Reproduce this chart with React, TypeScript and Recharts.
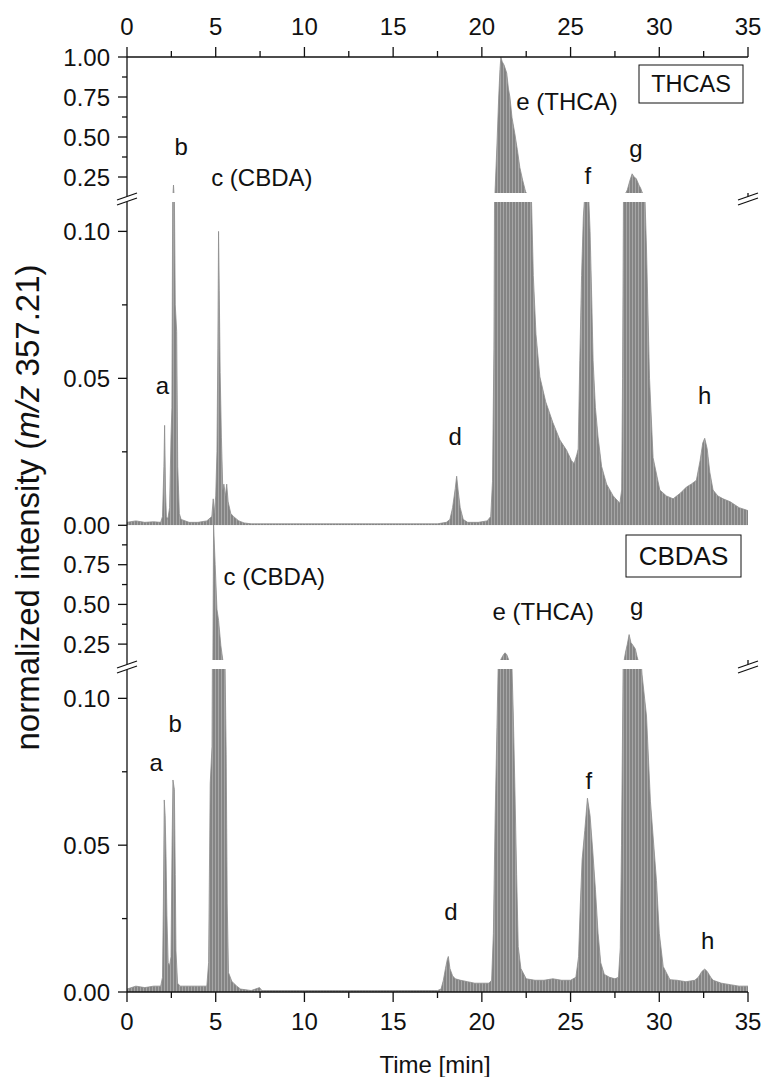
import React from 'react';
import { ComposedChart, Area, XAxis, YAxis, ReferenceDot } from 'recharts';

const FONT = '"Liberation Sans", Arial, Helvetica, sans-serif';
const INK = '#111';

// ---- axis ticks ----
const xTicksMajor = [0, 5, 10, 15, 20, 25, 30, 35];
const xTicksMinor = [2.5, 7.5, 12.5, 17.5, 22.5, 27.5, 32.5];
const upperMajor = [0.25, 0.5, 0.75, 1.0];
const upperMinor = [0.375, 0.625, 0.875];
const lowerMajor = [0, 0.05, 0.1];
const lowerMinor = [0.025, 0.075];
const upperDomain = [0.15, 1.0];
const lowerDomain = [0, 0.11];

// ---- THCAS chromatogram (time [min], normalized intensity) ----
const thcasTime = [
  0, 0.5, 1.0, 1.5, 1.9, 2.0, 2.08, 2.12, 2.17, 2.22, 2.3, 2.4, 2.48, 2.53, 2.58, 2.62, 2.66, 2.72, 2.8, 2.86,
  2.95, 3.05, 3.5, 4.0, 4.5, 4.78, 4.86, 4.92, 5.0, 5.07, 5.12, 5.16, 5.2, 5.25, 5.32, 5.4, 5.46, 5.55, 5.62, 5.7,
  5.85, 6.0, 6.3, 6.6, 7.0, 8.0, 10.0, 12.0, 14.0, 16.0, 17.5, 18.0, 18.2, 18.35, 18.5, 18.58, 18.66, 18.78, 18.95, 19.2,
  19.8, 20.3, 20.5, 20.6, 20.68, 20.74, 20.85, 20.95, 21.02, 21.07, 21.15, 21.25, 21.4, 21.5, 21.58, 21.7, 21.86, 22.0, 22.14, 22.3,
  22.46, 22.6, 22.8, 22.9, 23.05, 23.27, 23.6, 24.0, 24.4, 24.77, 25.05, 25.2, 25.35, 25.43, 25.52, 25.62, 25.72, 25.83, 25.92, 26.0,
  26.1, 26.2, 26.27, 26.4, 26.55, 26.75, 27.03, 27.4, 27.78, 27.88, 27.93, 27.98, 28.05, 28.11, 28.2, 28.35, 28.47, 28.58, 28.7, 28.85,
  28.95, 29.05, 29.15, 29.28, 29.45, 29.65, 30.03, 30.4, 30.78, 31.2, 31.53, 31.8, 32.09, 32.3, 32.45, 32.56, 32.7, 32.85, 33.03, 33.3,
  33.6, 34.0, 34.5, 35.0,
];
const thcasIntensity = [
  0.001, 0.0015, 0.001, 0.0012, 0.001, 0.003, 0.02, 0.034, 0.012, 0.003, 0.002, 0.006, 0.03, 0.04, 0.12, 0.2, 0.12, 0.075, 0.066, 0.02,
  0.004, 0.002, 0.001, 0.001, 0.0015, 0.003, 0.009, 0.004, 0.01, 0.025, 0.06, 0.1, 0.08, 0.052, 0.03, 0.012, 0.014, 0.01, 0.014, 0.008,
  0.004, 0.003, 0.0015, 0.0008, 0.0005, 0.0005, 0.0005, 0.0005, 0.0005, 0.0005, 0.0005, 0.001, 0.002, 0.006, 0.0125, 0.0167, 0.012, 0.006, 0.002, 0.001,
  0.001, 0.0015, 0.003, 0.015, 0.06, 0.15, 0.45, 0.75, 0.92, 1.0, 0.97, 0.95, 0.9, 0.8, 0.75, 0.62, 0.52, 0.42, 0.31, 0.23,
  0.16, 0.13, 0.11, 0.085, 0.065, 0.0505, 0.042, 0.035, 0.029, 0.0256, 0.022, 0.021, 0.024, 0.026, 0.056, 0.085, 0.105, 0.115, 0.12, 0.115,
  0.1, 0.075, 0.056, 0.04, 0.03, 0.02, 0.014, 0.01, 0.0075, 0.012, 0.05, 0.11, 0.13, 0.15, 0.17, 0.23, 0.27, 0.25, 0.24, 0.2,
  0.18, 0.15, 0.12, 0.094, 0.05, 0.023, 0.012, 0.01, 0.009, 0.011, 0.013, 0.014, 0.0153, 0.022, 0.028, 0.0296, 0.026, 0.018, 0.012, 0.01,
  0.009, 0.008, 0.006, 0.005,
];

// ---- CBDAS chromatogram ----
const cbdasTime = [
  0, 0.5, 1.0, 1.5, 1.9, 2.0, 2.05, 2.1, 2.15, 2.2, 2.25, 2.32, 2.4, 2.48, 2.54, 2.59, 2.67, 2.72, 2.76, 2.85,
  3.0, 3.5, 4.0, 4.5, 4.6, 4.69, 4.79, 4.84, 4.88, 4.97, 5.07, 5.16, 5.29, 5.4, 5.53, 5.59, 5.65, 5.72, 5.91, 6.19,
  6.4, 7.0, 7.47, 7.6, 10.0, 15.0, 17.5, 17.7, 17.83, 17.95, 18.05, 18.11, 18.2, 18.35, 18.5, 18.8, 19.2, 19.6, 20.0, 20.4,
  20.55, 20.65, 20.75, 20.85, 20.95, 21.0, 21.1, 21.2, 21.3, 21.4, 21.5, 21.6, 21.7, 21.77, 21.86, 21.96, 22.05, 22.2, 22.5, 23.0,
  23.5, 24.0, 24.5, 25.0, 25.3, 25.45, 25.55, 25.65, 25.8, 25.95, 26.1, 26.25, 26.4, 26.55, 26.7, 26.9, 27.2, 27.5, 27.7, 27.8,
  27.87, 27.96, 28.1, 28.2, 28.3, 28.4, 28.53, 28.65, 28.75, 28.85, 28.95, 29.03, 29.28, 29.5, 29.84, 30.0, 30.22, 30.6, 31.0, 31.5,
  32.0, 32.2, 32.4, 32.56, 32.7, 32.9, 33.03, 33.5, 34.0, 34.5, 35.0,
];
const cbdasIntensity = [
  0.001, 0.002, 0.0015, 0.002, 0.002, 0.005, 0.03, 0.0654, 0.06, 0.046, 0.026, 0.01, 0.009, 0.012, 0.05, 0.0722, 0.069, 0.04, 0.014, 0.003,
  0.002, 0.002, 0.002, 0.002, 0.01, 0.071, 0.0835, 0.15, 1.0, 0.75, 0.47, 0.4, 0.24, 0.15, 0.11, 0.081, 0.03, 0.0066, 0.0036, 0.002,
  0.001, 0.0005, 0.0015, 0.0005, 0.0005, 0.0005, 0.0005, 0.001, 0.004, 0.008, 0.011, 0.0121, 0.008, 0.0055, 0.0045, 0.004, 0.0035, 0.003, 0.003, 0.003,
  0.004, 0.02, 0.06, 0.09, 0.12, 0.135, 0.16, 0.18, 0.195, 0.185, 0.155, 0.125, 0.11, 0.095, 0.07, 0.04, 0.0155, 0.008, 0.0045, 0.004,
  0.004, 0.0045, 0.004, 0.004, 0.005, 0.012, 0.03, 0.045, 0.055, 0.066, 0.06, 0.048, 0.035, 0.02, 0.01, 0.006, 0.005, 0.0045, 0.005, 0.015,
  0.05, 0.11, 0.2, 0.25, 0.31, 0.26, 0.24, 0.22, 0.17, 0.13, 0.115, 0.108, 0.094, 0.065, 0.038, 0.02, 0.0087, 0.0042, 0.004, 0.0035,
  0.004, 0.005, 0.007, 0.0078, 0.007, 0.005, 0.004, 0.003, 0.0025, 0.002, 0.002,
];

// ---- peak annotations (time, intensity position, text) ----
const thcasUpperLabels = [
  { t: 3.06, v: 0.44, text: 'b' },
  { t: 7.6, v: 0.245, text: 'c (CBDA)' },
  { t: 24.8, v: 0.72, text: 'e (THCA)' },
  { t: 25.97, v: 0.262, text: 'f' },
  { t: 28.68, v: 0.43, text: 'g' },
];
const thcasLowerLabels = [
  { t: 1.99, v: 0.0477, text: 'a' },
  { t: 18.49, v: 0.0303, text: 'd' },
  { t: 32.56, v: 0.0443, text: 'h' },
];
const cbdasUpperLabels = [
  { t: 8.3, v: 0.674, text: 'c (CBDA)' },
  { t: 23.46, v: 0.455, text: 'e (THCA)' },
  { t: 28.73, v: 0.49, text: 'g' },
];
const cbdasLowerLabels = [
  { t: 1.65, v: 0.0783, text: 'a' },
  { t: 2.72, v: 0.0913, text: 'b' },
  { t: 18.26, v: 0.0273, text: 'd' },
  { t: 26.03, v: 0.0722, text: 'f' },
  { t: 32.73, v: 0.0175, text: 'h' },
];

const thcasData = thcasTime.map((t, i) => ({ t, v: thcasIntensity[i] }));
const cbdasData = cbdasTime.map((t, i) => ({ t, v: cbdasIntensity[i] }));

const W = 767;
const AXIS_X = 127;
const RIGHT_M = 19;
const PAD = 16;
const isIn = (arr: number[], v: number) => arr.some((m) => Math.abs(m - v) < 1e-9);

type XMode = 'top' | 'inward' | 'bottom' | 'none';

function makeXTick(mode: XMode, axisY: number) {
  return (props: any) => {
    const { x, payload } = props;
    const v = payload.value;
    const major = isIn(xTicksMajor, v);
    const len = major ? 10 : 6;
    if (mode === 'top') {
      return (
        <g>
          <line x1={x} x2={x} y1={axisY - len} y2={axisY} stroke={INK} strokeWidth={1.3} />
          {major && (
            <text x={x} y={axisY - 22} textAnchor="middle" fontSize={24} fontFamily={FONT} fill={INK}>
              {v}
            </text>
          )}
        </g>
      );
    }
    if (mode === 'inward') {
      return <line x1={x} x2={x} y1={axisY - len} y2={axisY} stroke={INK} strokeWidth={1.3} />;
    }
    return (
      <g>
        <line x1={x} x2={x} y1={axisY} y2={axisY + len} stroke={INK} strokeWidth={1.3} />
        {major && (
          <text x={x} y={axisY + 21} dy="0.71em" textAnchor="middle" fontSize={24} fontFamily={FONT} fill={INK}>
            {v}
          </text>
        )}
      </g>
    );
  };
}

function makeYTick(major: number[], hidden: number[]) {
  return (props: any) => {
    const { y, payload } = props;
    const v = payload.value;
    const isMajor = isIn(major, v);
    if (isIn(hidden, v)) return <g />;
    const len = isMajor ? 9 : 5;
    return (
      <g>
        <line x1={AXIS_X - len} x2={AXIS_X} y1={y} y2={y} stroke={INK} strokeWidth={1.3} />
        {isMajor && (
          <text x={AXIS_X - 17} y={y} dy="0.355em" textAnchor="end" fontSize={24} fontFamily={FONT} fill={INK}>
            {v.toFixed(2)}
          </text>
        )}
      </g>
    );
  };
}

type SectionProps = {
  id: string;
  data: { t: number; v: number }[];
  plotTop: number;
  plotHeight: number;
  domain: number[];
  yMajor: number[];
  yMinor: number[];
  yHidden?: number[];
  xMode: XMode;
  labels: { t: number; v: number; text: string }[];
};

function Section({ id, data, plotTop, plotHeight, domain, yMajor, yMinor, yHidden = [], xMode, labels }: SectionProps) {
  const topH = xMode === 'top' ? 57 : 0;
  const bottomH = xMode === 'bottom' ? 80 : 0;
  const padT = xMode === 'top' ? 0 : PAD;
  const padB = xMode === 'bottom' ? 0 : PAD;
  const height = padT + topH + plotHeight + bottomH + padB;
  const axisY = xMode === 'top' ? topH : padT + topH + plotHeight;
  const axisStyle = { stroke: INK, strokeWidth: 1.3 };
  return (
    <div style={{ position: 'absolute', left: 0, top: plotTop - topH - padT, width: W, height }}>
      <ComposedChart width={W} height={height} data={data} margin={{ top: padT, right: RIGHT_M, bottom: padB, left: 0 }}>
        <defs>
          <pattern id={`stripes-${id}`} width="3" height="8" patternUnits="userSpaceOnUse">
            <rect width="3" height="8" fill="#848484" />
            <rect x="2" width="1" height="8" fill="#a6a6a6" />
          </pattern>
        </defs>
        <XAxis
          dataKey="t"
          type="number"
          domain={[0, 35]}
          ticks={[...xTicksMajor, ...xTicksMinor]}
          interval={0}
          allowDataOverflow
          orientation={xMode === 'top' ? 'top' : 'bottom'}
          height={xMode === 'top' ? topH : bottomH}
          hide={xMode === 'none'}
          axisLine={axisStyle}
          tickLine={false}
          tickSize={0}
          tickMargin={0}
          tick={makeXTick(xMode, axisY)}
        />
        <YAxis
          yAxisId="l"
          type="number"
          domain={domain}
          allowDataOverflow
          ticks={[...yMajor, ...yMinor]}
          interval={0}
          width={AXIS_X}
          axisLine={axisStyle}
          tickLine={false}
          tickSize={0}
          tickMargin={0}
          tick={makeYTick(yMajor, yHidden)}
        />
        <YAxis
          yAxisId="r"
          orientation="right"
          type="number"
          domain={domain}
          allowDataOverflow
          width={0}
          tick={false}
          tickLine={false}
          axisLine={axisStyle}
        />
        <Area
          yAxisId="l"
          dataKey="v"
          type="linear"
          fill={`url(#stripes-${id})`}
          fillOpacity={1}
          stroke="#8c8c8c"
          strokeWidth={0.8}
          dot={false}
          activeDot={false}
          isAnimationActive={false}
        />
        {labels.map((l) => (
          <ReferenceDot
            key={l.text}
            yAxisId="l"
            x={l.t}
            y={l.v}
            r={0}
            ifOverflow="visible"
            label={{ value: l.text, position: 'center', fontSize: 24, fill: INK, fontFamily: FONT }}
          />
        ))}
      </ComposedChart>
    </div>
  );
}

function BreakMark({ cx, cy }: { cx: number; cy: number }) {
  return (
    <g>
      <polygon
        points={`${cx - 10},${cy + 1} ${cx + 10},${cy - 6} ${cx + 10},${cy - 1} ${cx - 10},${cy + 6}`}
        fill="#fff"
      />
      <line x1={cx - 10} y1={cy + 1} x2={cx + 10} y2={cy - 6} stroke={INK} strokeWidth={1.3} />
      <line x1={cx - 10} y1={cy + 6} x2={cx + 10} y2={cy - 1} stroke={INK} strokeWidth={1.3} />
    </g>
  );
}

export default function App() {
  const RX = W - RIGHT_M;
  return (
    <div style={{ position: 'absolute', left: 0, top: 0, width: W, height: 1077, overflow: 'hidden', background: '#fff' }}>
      <Section id="tu" data={thcasData} plotTop={57} plotHeight={136} domain={upperDomain} yMajor={upperMajor} yMinor={upperMinor} xMode="top" labels={thcasUpperLabels} />
      <Section id="tl" data={thcasData} plotTop={201.7} plotHeight={323.3} domain={lowerDomain} yMajor={lowerMajor} yMinor={lowerMinor} xMode="inward" labels={thcasLowerLabels} />
      <Section id="bu" data={cbdasData} plotTop={525} plotHeight={135} domain={upperDomain} yMajor={upperMajor} yMinor={upperMinor} yHidden={[1.0]} xMode="none" labels={cbdasUpperLabels} />
      <Section id="bl" data={cbdasData} plotTop={669.3} plotHeight={323} domain={lowerDomain} yMajor={lowerMajor} yMinor={lowerMinor} xMode="bottom" labels={cbdasLowerLabels} />
      <svg width={W} height={1077} style={{ position: 'absolute', left: 0, top: 0, pointerEvents: 'none' }}>
        <line x1={AXIS_X} x2={AXIS_X} y1={193} y2={201.7} stroke={INK} strokeWidth={1.3} />
        <line x1={RX} x2={RX} y1={193} y2={201.7} stroke={INK} strokeWidth={1.3} />
        <line x1={AXIS_X} x2={AXIS_X} y1={660} y2={669.3} stroke={INK} strokeWidth={1.3} />
        <line x1={RX} x2={RX} y1={660} y2={669.3} stroke={INK} strokeWidth={1.3} />
        <BreakMark cx={AXIS_X} cy={199} />
        <BreakMark cx={RX} cy={199} />
        <BreakMark cx={AXIS_X} cy={667} />
        <BreakMark cx={RX} cy={667} />
        <rect x={639} y={65} width={104} height={38} fill="#fff" stroke={INK} strokeWidth={1} />
        <text x={691} y={84} dy="0.355em" textAnchor="middle" fontSize={23.5} fontFamily={FONT} fill={INK}>THCAS</text>
        <rect x={626} y={535} width={115} height={42} fill="#fff" stroke={INK} strokeWidth={1} />
        <text x={683.5} y={556} dy="0.355em" textAnchor="middle" fontSize={26} fontFamily={FONT} fill={INK}>CBDAS</text>
        <text transform="translate(39, 507.5) rotate(-90)" textAnchor="middle" fontSize={33} fontFamily={FONT} fill={INK}>
          normalized intensity (<tspan fontStyle="italic">m/z</tspan> 357.21)
        </text>
        <text x={435} y={1073} textAnchor="middle" fontSize={24} fontFamily={FONT} fill={INK}>Time [min]</text>
      </svg>
    </div>
  );
}
